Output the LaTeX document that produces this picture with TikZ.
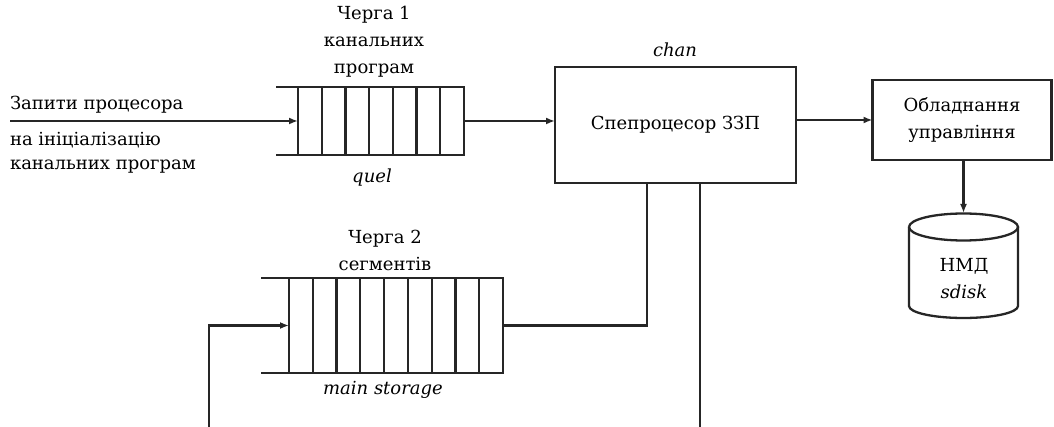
\documentclass[tikz,border=0pt]{standalone}
\usepackage{fontspec}
\setmainfont{DejaVu Serif}
\usetikzlibrary{arrows.meta}
\begin{document}
\begin{tikzpicture}[x=1pt,y=-1pt,
  every node/.style={font=\fontsize{18}{27}\selectfont, inner sep=0pt, outer sep=0pt},
  wire/.style={line width=2.3pt, draw=black!85},
  arr/.style={wire, -{Latex[length=9pt,width=7pt]}},
  blockbox/.style={draw=black!85, line width=2.3pt, rectangle},
  queuebox/.style={rectangle},
  lbl/.style={align=center},
  itl/.style={font=\fontsize{18}{27}\selectfont\itshape}]
\useasboundingbox (0,0) rectangle (1054,427);
% queue 1
\node[queuebox, minimum width=166pt, minimum height=68pt] (q1) at (381,121) {};
\draw[wire] ([xshift=-22pt]q1.north west) -- (q1.north east) -- (q1.south east) -- ([xshift=-22pt]q1.south west);
\foreach \i in {0,...,6} \draw[wire] ([xshift=\i*23.714pt]q1.north west) -- ([xshift=\i*23.714pt]q1.south west);
% queue 2
\node[queuebox, minimum width=214pt, minimum height=95pt] (q2) at (396,325.5) {};
\draw[wire] ([xshift=-28pt]q2.north west) -- (q2.north east) -- (q2.south east) -- ([xshift=-28pt]q2.south west);
\foreach \i in {0,...,8} \draw[wire] ([xshift=\i*23.778pt]q2.north west) -- ([xshift=\i*23.778pt]q2.south west);
% boxes
\node[blockbox, minimum width=241pt, minimum height=116pt] (chan) at (675.5,125) {Спепроцесор ЗЗП};
\node[blockbox, minimum width=179pt, minimum height=80pt, lbl] (ctrl) at (962,120) {Обладнання\\управління};
% disk
\node[minimum width=109pt, minimum height=105pt] (disk) at (963.5,265.5) {};
\draw[wire] (909,227) arc[start angle=180, end angle=540, x radius=54.5pt, y radius=13.5pt];
\draw[wire] (909,227) -- (909,306) arc[start angle=180, end angle=360, x radius=54.5pt, y radius=12pt] -- (1018,227);
\node[lbl] (disklbl) at (964,279) {НМД\\\textit{sdisk}};
% coordinates
\coordinate (src) at (10,121);
\coordinate (bot1) at (700,427);
\coordinate (bot2) at (209,427);
\coordinate (cout1) at ([xshift=-28.5pt]chan.south);
\coordinate (cout2) at ([xshift=24.5pt]chan.south);
% connectors
\draw[arr] (src) -- (q1.west);
\draw[arr] (q1.east) -- (q1.east -| chan.west);
\draw[arr] (chan.east |- ctrl.west) -- (ctrl.west);
\draw[arr] (ctrl.south -| disk.north) -- (disk.north);
\draw[wire] (q2.east) -| (cout1);
\draw[wire] (cout2) -- (cout2 |- bot1);
\draw[arr] (bot2) |- (q2.west);
% labels
\node[lbl] (q1lbl) at (374,42) {Черга 1\\канальних\\програм};
\node[itl] (quel) at (372,178) {quel};
\node[anchor=west] (t1) at (10,105) {Запити процесора};
\node[anchor=west] (t2) at (10,140) {на ініціалізацію};
\node[anchor=west] (t3) at (10,167) {канальних програм};
\node[itl] (chanlbl) at (675,50) {chan};
\node[lbl] (q2lbl) at (385,250) {Черга 2\\сегментів};
\node[itl] (mslbl) at (383,390) {main storage};
\end{tikzpicture}
\end{document}
